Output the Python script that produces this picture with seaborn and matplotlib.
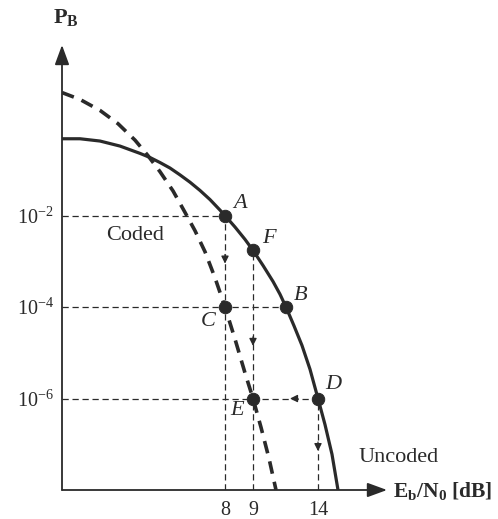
import numpy as np
import pandas as pd
import seaborn as sns
import matplotlib.pyplot as plt

# schematic Eb/N0 position (drawing is not to scale) and log10(P_B)
uncoded_x = [0.0, 1.8, 3.8, 5.8, 7.8, 8.8, 9.8, 10.8, 11.8, 12.8, 13.8, 14.8, 15.8, 16.3,
             17.3, 18.3, 19.1, 20.1, 21.1, 21.8, 22.4, 23.2, 24.0, 24.8, 25.6, 26.3, 27.0, 27.6]
uncoded_logp = [-0.32, -0.32, -0.37, -0.48, -0.64, -0.73, -0.84, -0.96, -1.11, -1.27, -1.45, -1.65, -1.88, -2.0,
                -2.25, -2.52, -2.76, -3.09, -3.44, -3.72, -4.0, -4.41, -4.84, -5.36, -6.0, -6.57, -7.22, -8.0]
coded_x = [0.0, 1.8, 3.8, 5.6, 7.3, 8.6, 9.8, 11.1, 12.3, 13.3, 14.3, 15.3, 16.3,
           17.3, 18.3, 19.1, 19.9, 20.7, 21.4]
coded_logp = [0.69, 0.54, 0.30, 0.01, -0.35, -0.69, -1.04, -1.46, -1.93, -2.33, -2.79, -3.36, -4.0,
              -4.70, -5.44, -6.0, -6.63, -7.31, -8.0]

point_names = ["A", "F", "B", "D", "C", "E"]
point_x = [16.3, 19.1, 22.4, 25.6, 16.3, 19.1]
point_logp = [-2.0, -2.76, -4.0, -6.0, -4.0, -6.0]

xtick_pos = [16.3, 19.1, 25.6]
xtick_labels = ["8", "9", "14"]
ytick_exp = [-2, -4, -6]

ink = "#2a2a2a"

sns.set_style("white")
plt.rcParams["font.family"] = ["Liberation Serif", "DejaVu Serif"]
plt.rcParams["mathtext.fontset"] = "custom"
plt.rcParams["mathtext.rm"] = "Liberation Serif"
plt.rcParams["mathtext.it"] = "Liberation Serif:italic"
plt.rcParams["mathtext.bf"] = "Liberation Serif:bold"
plt.rcParams["axes.unicode_minus"] = False

uncoded = pd.DataFrame({"x": uncoded_x, "pb": 10.0 ** np.array(uncoded_logp)})
coded = pd.DataFrame({"x": coded_x, "pb": 10.0 ** np.array(coded_logp)})
pts = pd.DataFrame({"name": point_names, "x": point_x, "pb": 10.0 ** np.array(point_logp)})

fig = plt.figure(figsize=(4.98, 5.19), dpi=100)
ax = fig.add_axes([62 / 498, 1 - 490 / 519, (387 - 62) / 498, (490 - 45) / 519])
ax.set_yscale("log")
ax.set_xlim(0, 32.5)
ax.set_ylim(1e-8, 10 ** 1.73)

# dashed guide lines
guide = dict(color=ink, lw=0.9, ls=(0, (5, 3)), zorder=1)
pt = pts.set_index("name")
for nm in ["A", "B", "D"]:
    ax.plot([0, pt.loc[nm, "x"]], [pt.loc[nm, "pb"]] * 2, **guide)
for nm in ["A", "F", "D"]:
    ax.plot([pt.loc[nm, "x"]] * 2, [1e-8, pt.loc[nm, "pb"]], **guide)

# small arrowheads along the guides
def small_arrow(x0, y0, x1, y1):
    ax.annotate("", xy=(x1, y1), xytext=(x0, y0),
                arrowprops=dict(arrowstyle="-|>", mutation_scale=11, lw=0.9, color=ink,
                                shrinkA=0, shrinkB=0))

small_arrow(16.3, 10 ** -2.85, 16.3, 10 ** -3.05)
small_arrow(19.1, 10 ** -4.65, 19.1, 10 ** -4.85)
small_arrow(23.6, 1e-6, 22.8, 1e-6)
small_arrow(25.6, 10 ** -6.95, 25.6, 10 ** -7.15)

# curves
sns.lineplot(data=uncoded, x="x", y="pb", ax=ax, color=ink, lw=2.3, estimator=None, zorder=3)
sns.lineplot(data=coded, x="x", y="pb", ax=ax, color=ink, lw=2.6, estimator=None,
             linestyle=(0, (3.5, 2.3)), zorder=3)
sns.scatterplot(data=pts, x="x", y="pb", ax=ax, color=ink, s=80, edgecolor=ink, zorder=5)

# point labels
offsets = {"A": (15, 12), "F": (16, 12), "B": (15, 12), "D": (15, 14), "C": (-17, -14), "E": (-16, -12)}
for nm in point_names:
    ax.annotate(nm, (pt.loc[nm, "x"], pt.loc[nm, "pb"]), xytext=offsets[nm], textcoords="offset pixels",
                ha="center", va="center", fontsize=16, style="italic", color=ink)

ax.text(7.3, 10 ** -2.43, "Coded", fontsize=16, ha="center", va="center", color=ink)
ax.text(33.7, 10 ** -7.30, "Uncoded", fontsize=16, ha="center", va="center", color=ink, clip_on=False)

# axes drawn as arrows
for s in ax.spines.values():
    s.set_visible(False)
ax.annotate("", xy=(0, 1), xytext=(0, 0), xycoords="axes fraction",
            arrowprops=dict(arrowstyle="-|>,head_length=0.6,head_width=0.22", mutation_scale=20,
                            lw=1.3, color=ink, shrinkA=0, shrinkB=0))
ax.annotate("", xy=(1, 0), xytext=(0, 0), xycoords="axes fraction",
            arrowprops=dict(arrowstyle="-|>,head_length=0.6,head_width=0.22", mutation_scale=20,
                            lw=1.3, color=ink, shrinkA=0, shrinkB=0))

ax.set_xticks(xtick_pos)
ax.set_xticklabels(xtick_labels)
ax.set_yticks([10.0 ** e for e in ytick_exp])
ax.set_yticklabels(["10$^{%d}$" % e for e in ytick_exp])
ax.minorticks_off()
ax.tick_params(axis="x", length=0, pad=8, labelsize=14.5, colors=ink)
ax.tick_params(axis="y", length=0, pad=6, labelsize=14.5, colors=ink)
ax.set_xlabel("")
ax.set_ylabel("")

fig.text(53 / 498, 1 - 23 / 519, r"$\mathbf{P}_{\mathbf{B}}$", fontsize=16, ha="left",
         va="baseline", color=ink)
fig.text(393 / 498, 1 - 497 / 519, r"$\mathbf{E}_{\mathbf{b}}\mathbf{/N}_{\mathbf{0}}$ [dB]",
         fontsize=15.5, fontweight="bold", ha="left", va="baseline", color=ink)

fig.savefig("out.png", dpi=100)
